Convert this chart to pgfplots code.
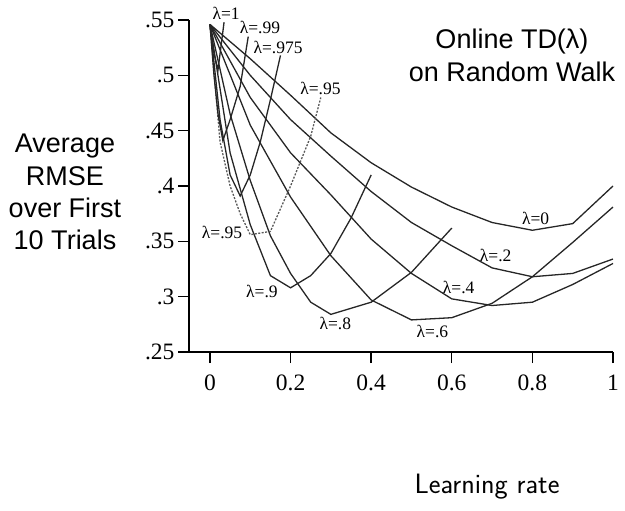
\documentclass[border=0pt]{standalone}
\usepackage{fontspec}
\setmainfont{Liberation Serif}
\newfontfamily\arial{Liberation Sans}
\usepackage{pgfplots}
\pgfplotsset{compat=1.18}
\begin{document}
\begin{tikzpicture}
\path[use as bounding box] (0,0) rectangle (625bp,511bp);
\begin{axis}[
  at={(189bp,159bp)}, anchor=south west,
  scale only axis, width=424bp, height=332bp,
  xmin=-0.052, xmax=1, ymin=0.25, ymax=0.55,
  axis x line=bottom, axis y line=left,
  axis line style={-, line width=1.6bp, black},
  tick style={line width=1.4bp, black},
  tick align=outside, major tick length=11bp,
  xtick={0,0.2,0.4,0.6,0.8,1},
  xticklabels={0,0.2,0.4,0.6,0.8,1},
  ytick={0.25,0.3,0.35,0.4,0.45,0.5,0.55},
  yticklabels={.25,.3,.35,.4,.45,.5,.55},
  ticklabel style={font=\fontsize{23.5bp}{23.5bp}\selectfont},
  xticklabel style={yshift=-8bp},
  clip=false,
  curve/.style={line width=1.3bp, black!85, mark=none},
]
% lambda = 0
\addplot[curve] coordinates {(0,.546)(0.1,.515)(0.2,.482)(0.3,.448)(0.4,.421)(0.5,.399)(0.6,.381)(0.7,.367)(0.8,.360)(0.9,.366)(1.0,.400)};
% lambda = .2
\addplot[curve] coordinates {(0,.546)(0.1,.500)(0.2,.460)(0.3,.427)(0.4,.395)(0.5,.367)(0.6,.346)(0.7,.326)(0.8,.318)(0.9,.321)(1.0,.334)};
% lambda = .4
\addplot[curve] coordinates {(0,.546)(0.1,.480)(0.2,.430)(0.3,.392)(0.4,.352)(0.5,.321)(0.6,.298)(0.7,.292)(0.8,.295)(0.9,.311)(1.0,.330)};
% lambda = .6
\addplot[curve] coordinates {(0,.546)(0.1,.455)(0.2,.390)(0.3,.337)(0.4,.297)(0.5,.279)(0.6,.281)(0.7,.294)(0.8,.318)(0.9,.349)(1.0,.381)};
% lambda = .8
\addplot[curve] coordinates {(0,.546)(0.05,.465)(0.1,.405)(0.15,.355)(0.2,.321)(0.25,.295)(0.3,.284)(0.4,.295)(0.5,.322)(0.6,.362)};
% lambda = .9
\addplot[curve] coordinates {(0,.546)(0.05,.430)(0.1,.365)(0.15,.319)(0.2,.308)(0.25,.319)(0.3,.339)(0.35,.371)(0.4,.410)};
% lambda = .95 (dotted)
\addplot[curve, black!65, dash pattern=on 2bp off 1.5bp] coordinates {(0,.546)(0.025,.440)(0.05,.400)(0.075,.375)(0.1,.356)(0.15,.359)(0.2,.400)(0.25,.445)(0.275,.480)};
% lambda = .975
\addplot[curve] coordinates {(0,.546)(0.025,.460)(0.05,.410)(0.075,.391)(0.1,.410)(0.125,.440)(0.15,.478)(0.175,.518)};
% lambda = .99
\addplot[curve] coordinates {(0,.546)(0.01,.500)(0.02,.465)(0.032,.441)(0.05,.460)(0.075,.490)(0.095,.535)};
% lambda = 1
\addplot[curve] coordinates {(0,.546)(0.01,.520)(0.02,.505)(0.035,.548)};
\begin{scope}[every node/.style={font=\fontsize{17.5bp}{17.5bp}\selectfont, inner sep=0pt}]
\node at (axis cs:0.04,0.556) {λ=1};
\node at (axis cs:0.124,0.543) {λ=.99};
\node at (axis cs:0.169,0.525) {λ=.975};
\node at (axis cs:0.274,0.488) {λ=.95};
\node at (axis cs:0.03,0.358) {λ=.95};
\node at (axis cs:0.129,0.305) {λ=.9};
\node at (axis cs:0.311,0.276) {λ=.8};
\node at (axis cs:0.552,0.269) {λ=.6};
\node at (axis cs:0.617,0.308) {λ=.4};
\node at (axis cs:0.709,0.337) {λ=.2};
\node at (axis cs:0.808,0.371) {λ=0};
\end{scope}
\end{axis}
\node[font=\arial\fontsize{27bp}{33bp}\selectfont, align=center] at (512bp,456bp) {Online TD(λ)\\on Random Walk};
\node[font=\arial\fontsize{27bp}{32.3bp}\selectfont, align=center] at (65bp,319bp) {Average\\RMSE\\over First\\10 Trials};
\node[font=\sffamily\fontsize{28bp}{28bp}\selectfont] at (487bp,24bp) {Learning rate};
\end{tikzpicture}
\end{document}
